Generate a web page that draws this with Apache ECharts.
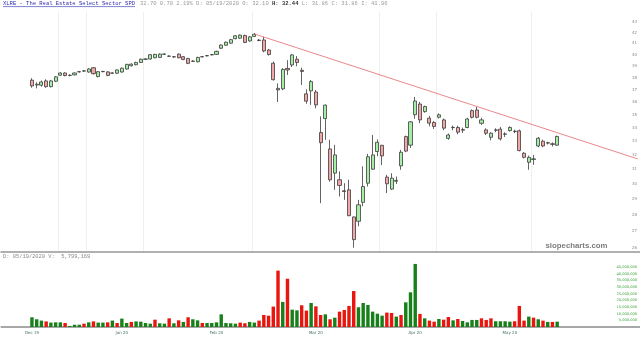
<!DOCTYPE html>
<html><head><meta charset="utf-8">
<script src="https://cdn.jsdelivr.net/npm/echarts@6/dist/echarts.min.js"></script>
<style>html,body{margin:0;padding:0;background:#fff}#c{width:640px;height:341px}</style>
</head><body><div id="c"></div>
<script>
// ---------- data ----------
const dates = [
'2019-12-12','2019-12-13','2019-12-16','2019-12-17','2019-12-18','2019-12-19','2019-12-20','2019-12-23','2019-12-24','2019-12-26','2019-12-27','2019-12-30','2019-12-31',
'2020-01-02','2020-01-03','2020-01-06','2020-01-07','2020-01-08','2020-01-09','2020-01-10','2020-01-13','2020-01-14','2020-01-15','2020-01-16','2020-01-17','2020-01-21','2020-01-22','2020-01-23','2020-01-24','2020-01-27','2020-01-28','2020-01-29','2020-01-30','2020-01-31',
'2020-02-03','2020-02-04','2020-02-05','2020-02-06','2020-02-07','2020-02-10','2020-02-11','2020-02-12','2020-02-13','2020-02-14','2020-02-18','2020-02-19','2020-02-20','2020-02-21','2020-02-24','2020-02-25','2020-02-26','2020-02-27','2020-02-28',
'2020-03-02','2020-03-03','2020-03-04','2020-03-05','2020-03-06','2020-03-09','2020-03-10','2020-03-11','2020-03-12','2020-03-13','2020-03-16','2020-03-17','2020-03-18','2020-03-19','2020-03-20','2020-03-23','2020-03-24','2020-03-25','2020-03-26','2020-03-27','2020-03-30','2020-03-31',
'2020-04-01','2020-04-02','2020-04-03','2020-04-06','2020-04-07','2020-04-08','2020-04-09','2020-04-13','2020-04-14','2020-04-15','2020-04-16','2020-04-17','2020-04-20','2020-04-21','2020-04-22','2020-04-23','2020-04-24','2020-04-27','2020-04-28','2020-04-29','2020-04-30',
'2020-05-01','2020-05-04','2020-05-05','2020-05-06','2020-05-07','2020-05-08','2020-05-11','2020-05-12','2020-05-13','2020-05-14','2020-05-15','2020-05-18','2020-05-19','2020-05-20','2020-05-21','2020-05-22'
];
const open = [37.78,37.38,37.36,37.72,37.24,37.69,38.20,38.39,38.18,38.23, 38.48,38.57,38.47,38.84,38.08,38.50,38.48,38.37,38.37,38.47, 38.73,39.01,39.10,39.30,39.58,39.60,39.71,39.74,40.02,39.84, 39.80,40.03,39.80,39.65,39.40,39.36,39.79,39.88,39.97,40.01, 40.56,40.83,41.02,41.43,41.48,41.72,41.22,41.64,41.30,41.31, 40.40,39.23,37.10,37.06,38.78,39.08,39.58,38.62,36.65,36.89, 36.80,33.63,34.69,32.43,30.73,30.28,29.55,29.61,27.88,27.61, 28.80,30.05,31.00,32.24,32.69,30.46,29.66,30.18,31.23,33.33, 32.70,34.99,35.83,35.23,34.72,34.39,34.79,34.59,33.20,34.00, 34.01,33.85,34.01,35.31,35.36,34.33,33.83,33.28,33.80,33.88, 33.50,33.78,33.70,33.76,32.12,31.48,31.68,32.64,32.99,32.85, 32.80,32.70];
const high = [37.95,37.60,37.75,37.85,37.80,38.12,38.45,38.45,38.28,38.44, 38.56,38.64,38.80,38.90,38.55,38.58,38.55,38.45,38.70,38.86, 39.18,39.22,39.36,39.64,39.66,40.04,40.06,40.10,40.10,39.92, 39.86,40.10,39.86,39.70,39.48,39.80,39.86,39.95,40.04,40.34, 40.90,41.16,41.40,41.76,41.82,41.80,41.66,41.95,41.40,41.60, 40.50,39.38,37.51,38.80,39.50,40.05,39.86,38.85,37.02,37.80, 36.97,34.86,35.80,33.10,32.72,30.85,30.05,30.28,27.90,28.96, 31.20,32.07,33.45,33.12,32.72,30.61,30.72,30.50,32.36,33.40, 34.50,36.40,36.00,35.70,34.90,34.50,35.10,34.70,33.55,34.15, 34.15,34.00,34.75,35.40,35.60,34.75,33.95,33.65,33.95,34.05, 33.65,34.10,33.85,33.85,32.20,31.95,32.00,33.30,33.10,32.95, 32.90,33.40];
const low = [37.15,37.10,37.25,37.15,37.18,37.62,38.15,38.10,38.10,38.18, 38.43,38.50,38.42,38.25,38.02,38.45,38.12,38.32,38.30,38.42, 38.68,38.96,39.05,39.25,39.52,39.55,39.66,39.70,39.96,39.78, 39.72,39.66,39.50,39.15,39.34,39.30,39.74,39.83,39.92,39.96, 40.50,40.78,40.96,41.38,41.42,41.02,41.15,41.58,41.20,40.20, 39.90,37.75,35.99,36.95,38.22,38.90,38.97,37.38,35.85,35.76, 35.49,28.75,33.09,30.15,29.61,29.18,28.96,27.92,26.04,27.31, 28.55,29.83,30.96,31.90,31.28,29.40,29.61,30.00,30.96,32.20, 32.50,34.67,34.34,35.15,34.10,33.90,34.70,33.80,33.10,33.80, 33.50,33.60,33.95,34.70,34.70,34.20,33.45,33.05,33.65,33.05, 33.30,33.70,33.58,32.25,31.75,30.96,31.30,32.55,32.55,32.75, 32.60,32.65];
const close = [37.30,37.44,37.63,37.24,37.72,38.06,38.39,38.17,38.20,38.39, 38.50,38.55,38.73,38.33,38.50,38.52,38.18,38.39,38.65,38.80, 39.13,39.15,39.30,39.58,39.60,39.98,40.01,40.03,40.04,39.86, 39.78,39.71,39.56,39.22,39.42,39.74,39.81,39.90,39.99,40.28, 40.85,41.11,41.34,41.70,41.76,41.09,41.60,41.84,41.26,40.31, 40.00,37.82,36.97,38.70,38.65,39.96,39.30,38.52,36.06,37.66, 35.76,32.88,35.74,30.28,32.00,29.90,29.50,27.96,26.51,28.64, 29.83,31.87,32.00,32.91,31.93,30.01,30.39,30.24,32.19,32.27, 34.44,36.07,34.59,35.63,34.34,34.09,34.98,33.96,33.45,34.02, 33.66,33.81,34.66,34.79,34.79,34.59,33.58,33.58,33.83,33.16, 33.53,34.01,33.73,32.31,31.83,31.83,31.72,33.21,32.64,32.88, 32.76,33.34];
const volume = [7300000,5800000,4800000,4200000,3300000,3500000,3500000,3000000,800000,1700000, 1700000,2500000,3500000,4200000,3300000,3300000,3500000,4800000,3000000,6300000, 3000000,3800000,4200000,4000000,3000000,2500000,5500000,2800000,2500000,6500000, 2800000,5000000,3800000,7300000,5800000,5000000,3000000,3000000,3000000,3500000, 9500000,3000000,2800000,2500000,3300000,2800000,3800000,3300000,4800000,9000000, 8500000,15300000,42300000,18800000,36200000,13000000,12500000,16300000,12300000,18000000, 15500000,9000000,9500000,5800000,7000000,11500000,12800000,15800000,27000000,14800000, 18000000,16500000,11500000,10000000,8500000,10800000,10500000,7800000,9000000,18500000, 26000000,47300000,9800000,6500000,4800000,4000000,6000000,5500000,7500000,5000000, 6000000,4500000,3500000,5300000,5300000,6500000,5300000,6500000,4300000,4300000, 4300000,4000000,4300000,15800000,4800000,7800000,7000000,5800000,4800000,3800000, 3800000,4000000];
// 1 = up-day volume bar (green), 0 = down-day volume bar (red)
const volumeUp = [1,1,1,0,1,1,1,0,1,1, 1,0,1,0,1,1,0,1,0,1, 1,0,1,1,1,1,0,1,1,0, 1,0,1,0,1,1,0,1,1,1, 1,1,1,1,0,0,1,1,0,0, 0,0,0,1,0,1,1,0,0,1, 0,0,1,0,1,0,0,0,0,1, 1,1,1,1,1,0,0,1,0,1, 1,1,0,1,0,0,1,0,0,1, 0,1,1,1,1,0,0,0,1,1, 1,1,0,0,0,1,0,1,0,1, 0,1];
const monthLabelDates = ['2019-12-12','2020-01-10','2020-02-10','2020-03-11','2020-04-09','2020-05-08'];
const monthLabels = ['Dec 19','Jan 20','Feb 20','Mar 20','Apr 20','May 20'];
const gridLineDates = ['2019-12-20','2019-12-31','2020-01-17','2020-02-21','2020-03-31','2020-04-17','2020-05-15'];
const priceTicks = [26,27,28,29,30,31,32,33,34,35,36,37,38,39,40,41,42,43];
const volumeTicks = [5000000,10000000,15000000,20000000,25000000,30000000,35000000,40000000,45000000];
const trendAnchors = [['2020-02-21', 41.87], ['2020-05-22', 33.62]];
const headerTitle = 'XLRE - The Real Estate Select Sector SPD';
const headerQuote = ['32.70 0.70 2.19% D: 05/19/2020 O: 32.10 ', 'H: 32.44', ' L: 31.86 C: 31.86 I: 41.96'];
const volumeInfo = 'D: 05/19/2020 V:  5,799,169';
const watermark = 'slopecharts.com';
const leadSlots = 6;   // blank space left of the first bar
const emptySlots = 17; // blank space right of the last bar

// ---------- build ----------
const cats = [];
for (let i = leadSlots; i >= 1; i--) cats.push('-' + i);
dates.forEach(d => cats.push(d));
for (let i = 1; i <= emptySlots; i++) cats.push('+' + i);
const L = Math.log;
const padC = Array.from({ length: leadSlots }, () => ['-', '-', '-', '-']);
const padV = Array.from({ length: leadSlots }, () => '-');
const candleData = padC.concat(dates.map((d, i) => [L(open[i]), L(close[i]), L(low[i]), L(high[i])]));
const volData = padV.concat(volume.map((v, i) => ({
  value: v,
  itemStyle: { color: volumeUp[i] ? '#17801a' : '#e8160f' }
})));
const i1 = dates.indexOf(trendAnchors[0][0]), i2 = dates.indexOf(trendAnchors[1][0]);
const v1 = L(trendAnchors[0][1]), v2 = L(trendAnchors[1][1]);
const slope = (v2 - v1) / (i2 - i1);
const iEnd = dates.length - 1 + emptySlots;
const trendData = [[dates[i1], v1], [cats[cats.length - 1], v1 + slope * (iEnd - i1)]];

const chart = echarts.init(document.getElementById('c'), null, { renderer: 'canvas' });
chart.setOption({
  animation: false,
  backgroundColor: '#fff',
  grid: [
    { left: 1.2, right: 0, top: 12, height: 240 },
    { left: 1.2, right: 0, top: 252, height: 75 }
  ],
  xAxis: [
    { type: 'category', gridIndex: 0, data: cats, boundaryGap: true,
      axisLine: { show: true, lineStyle: { color: '#b0b0b0', width: 2 } },
      axisTick: { show: false }, axisLabel: { show: false },
      splitLine: { show: true, interval: (i, v) => gridLineDates.indexOf(v) >= 0,
                   lineStyle: { color: '#efefef', width: 1 } } },
    { type: 'category', gridIndex: 1, data: cats, boundaryGap: true,
      axisLine: { show: true, lineStyle: { color: '#8c8c8c', width: 1.5 } },
      axisTick: { show: false },
      axisLabel: { show: true, interval: (i, v) => monthLabelDates.indexOf(v) >= 0,
        formatter: v => { const k = monthLabelDates.indexOf(v); return k >= 0 ? monthLabels[k] : ''; },
        fontSize: 4, color: '#3f6f66', margin: 4, fontFamily: 'DejaVu Sans' },
      splitLine: { show: false } }
  ],
  yAxis: [
    { type: 'value', gridIndex: 0, position: 'right', scale: true,
      min: L(25.79), max: L(43.96),
      axisLine: { show: false }, axisTick: { show: false }, splitLine: { show: false },
      axisLabel: { inside: true, margin: 3, fontSize: 4, color: '#8a8a8a', fontFamily: 'DejaVu Sans',
        customValues: priceTicks.map(p => L(p)),
        formatter: v => String(Math.round(Math.exp(v))) } },
    { type: 'value', gridIndex: 1, position: 'right', min: 0, max: 56250000, interval: 5000000,
      axisLine: { show: false }, axisTick: { show: false }, splitLine: { show: false },
      axisLabel: { inside: true, margin: 3, fontSize: 3.6, color: '#3aa03a', fontFamily: 'DejaVu Sans',
        customValues: volumeTicks,
        formatter: v => Number(v).toLocaleString('en-US') } }
  ],
  series: [
    { type: 'candlestick', xAxisIndex: 0, yAxisIndex: 0, data: candleData, barWidth: '76%',
      itemStyle: { color: '#a6eea6', color0: '#f2a6a6', borderColor: '#3c3c3c', borderColor0: '#3c3c3c', borderWidth: 0.8 } },
    { type: 'line', xAxisIndex: 0, yAxisIndex: 0, data: trendData, symbol: 'none', silent: true,
      lineStyle: { color: '#e46a6a', width: 0.8 }, z: 5 },
    { type: 'bar', xAxisIndex: 1, yAxisIndex: 1, data: volData, barWidth: '72%' }
  ],
  graphic: [
    { type: 'text', x: 3, y: 3.6, style: { text: headerTitle, font: '5.5px "Liberation Mono"', fill: '#2b2bb0', verticalAlign: 'middle' } },
    { type: 'line', shape: { x1: 3, y1: 6.6, x2: 135, y2: 6.6 }, style: { stroke: '#2b2bb0', lineWidth: 0.6 } },
    { type: 'text', x: 140, y: 3.6, style: {
        text: '{n|' + headerQuote[0] + '}{b|' + headerQuote[1] + '}{n|' + headerQuote[2] + '}',
        verticalAlign: 'middle',
        rich: {
          n: { fontSize: 5.5, fontFamily: 'Liberation Mono', fill: '#9a9a9a' },
          b: { fontSize: 5.5, fontFamily: 'Liberation Mono', fontWeight: 'bold', fill: '#333' }
        } } },
    { type: 'text', x: 3, y: 256.6, style: { text: volumeInfo, font: '5.4px "Liberation Mono"', fill: '#8a8a8a', verticalAlign: 'middle' } },
    { type: 'text', x: 607.5, y: 245.5, style: { text: watermark, font: 'bold 7.8px "Liberation Sans"', fill: '#7c7c7c', align: 'right', verticalAlign: 'middle' } }
  ]
});
</script>
</body></html>
